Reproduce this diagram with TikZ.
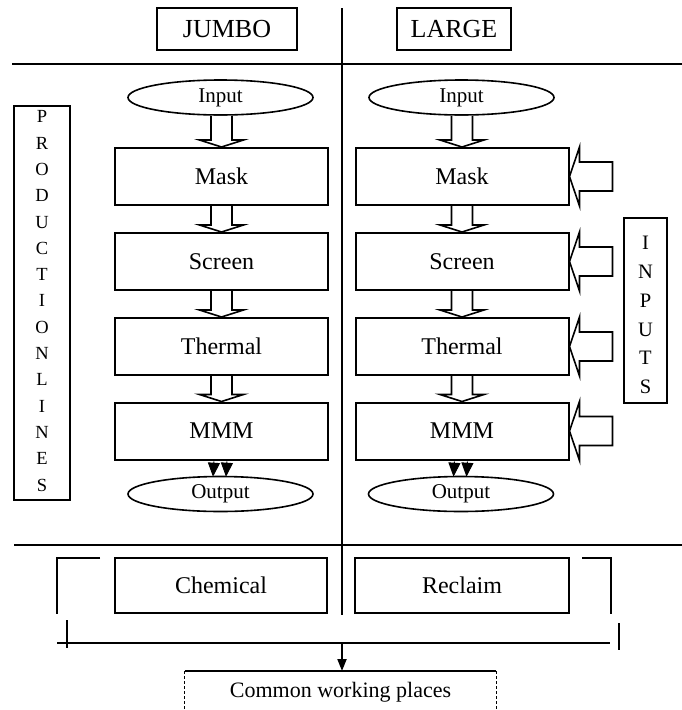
\documentclass[tikz,border=0pt]{standalone}
\usepackage{fontspec}
\setmainfont{Liberation Serif}
\usetikzlibrary{calc,arrows.meta,shapes.geometric}

\tikzset{
  procbox/.style={draw, line width=2pt, minimum width=213pt, minimum height=57pt,
    inner sep=0pt, font=\fontsize{24}{28}\selectfont},
  titlebox/.style={draw, line width=1.6pt, minimum height=42pt, inner sep=0pt,
    font=\fontsize{26}{30}\selectfont},
  flowell/.style={draw, ellipse, line width=1.6pt, minimum width=185pt,
    minimum height=35pt, inner sep=0pt, font=\fontsize{21}{24}\selectfont},
  sidebox/.style={draw, line width=2pt, inner sep=0pt},
  sidetext/.style={align=center, inner sep=0pt},
  hollow/.style={draw, line width=1.6pt, fill=white, line join=miter},
  rule/.style={line width=2pt},
  divider/.style={line width=2.6pt},
  dblhead/.style={line width=1pt, -{Triangle[width=12pt,length=14pt]}},
  joinarrow/.style={line width=2pt, -{Triangle[width=9pt,length=12pt]}},
}

% wide hollow arrow pointing down from node #1 into node #2
\newcommand\hollowdown[2]{%
  \draw[hollow] let \p1=(#1.south), \p2=(#2.north) in
    (\x2-10.5pt,\y1) -- (\x2-10.5pt,\y2+7pt) -- (\x2-22pt,\y2+7pt) -- (\x2,\y2)
    -- (\x2+22pt,\y2+7pt) -- (\x2+10.5pt,\y2+7pt) -- (\x2+10.5pt,\y1);}

% hollow arrow entering node #1 from the right
\newcommand\hollowleft[1]{%
  \draw[hollow] let \p1=(#1.east), \p2=(#1.north east), \p3=(#1.south east) in
    (\x1+43pt,\y1+14.5pt) -- (\x1+10pt,\y1+14.5pt) -- (\x1+10pt,\y2) -- (\x1,\y1)
    -- (\x1+10pt,\y3) -- (\x1+10pt,\y1-14.5pt) -- (\x1+43pt,\y1-14.5pt) -- cycle;}

\begin{document}
\begin{tikzpicture}[x=1pt, y=-1pt]
  \fill[white] (0,0) rectangle (682,710);
  \useasboundingbox (0,0) rectangle (682,710);

  % column titles
  \node[titlebox, minimum width=140pt] (jumbo) at (227,29) {JUMBO};
  \node[titlebox, minimum width=114pt] (large) at (454,29) {LARGE};

  % dividing lines
  \coordinate (divtop) at (342,8);
  \coordinate (divbot) at (342,615);
  \draw[divider] (divtop) -- (divbot);
  \coordinate (topL) at (12,64);
  \coordinate (topR) at (682,64);
  \draw[rule] (topL) -- (topR);
  \coordinate (midL) at (14,545);
  \coordinate (midR) at (682,545);
  \draw[rule] (midL) -- (midR);

  % JUMBO line
  \node[flowell] (inL) at (220.5,97.5) {Input};
  \node[procbox] (maskL) at (221.5,176.5) {Mask};
  \node[procbox] (screenL) at (221.5,261.5) {Screen};
  \node[procbox] (thermL) at (221.5,346.5) {Thermal};
  \node[procbox] (mmmL) at (221.5,431) {MMM};
  \node[flowell] (outL) at (220.5,494) {Output};

  % LARGE line
  \node[flowell] (inR) at (461.5,97.5) {Input};
  \node[procbox] (maskR) at (462,176.5) {Mask};
  \node[procbox] (screenR) at (462,261.5) {Screen};
  \node[procbox] (thermR) at (462,346.5) {Thermal};
  \node[procbox] (mmmR) at (462,431) {MMM};
  \node[flowell] (outR) at (461,494) {Output};

  % flow arrows
  \hollowdown{inL}{maskL}
  \hollowdown{maskL}{screenL}
  \hollowdown{screenL}{thermL}
  \hollowdown{thermL}{mmmL}
  \hollowdown{inR}{maskR}
  \hollowdown{maskR}{screenR}
  \hollowdown{screenR}{thermR}
  \hollowdown{thermR}{mmmR}

  \foreach \n in {L,R} {
    \draw[dblhead] ($(mmm\n.south)+(-7.5,1)$) -- ($(out\n.north)+(-7.5,1)$);
    \draw[dblhead] ($(mmm\n.south)+(5.5,1)$) -- ($(out\n.north)+(5.5,1)$);
  }

  % inputs entering the LARGE line
  \hollowleft{maskR}
  \hollowleft{screenR}
  \hollowleft{thermR}
  \hollowleft{mmmR}

  % side labels
  \node[sidebox, minimum width=56pt, minimum height=394pt] (prod) at (42,303) {};
  \node[sidetext, font=\fontsize{18.5}{26.3}\selectfont] (prodtxt) at (42,301)
    {P\\R\\O\\D\\U\\C\\T\\I\\O\\N\\L\\I\\N\\E\\S};
  \node[sidebox, minimum width=43pt, minimum height=185pt] (inputs) at (645.5,310.5) {};
  \node[sidetext, font=\fontsize{20.5}{28.8}\selectfont] (inputstxt) at (645.5,315)
    {I\\N\\P\\U\\T\\S};

  % shared areas
  \node[procbox, minimum width=212pt, minimum height=55pt] (chem) at (221,585.5) {Chemical};
  \node[procbox, minimum width=214pt, minimum height=55pt] (recl) at (462,585.5) {Reclaim};

  \draw[rule] (100,558) -- (57,558) -- (57,614);
  \draw[rule] (582,558) -- (611,558) -- (611,614);

  \coordinate (busL) at (57,643);
  \coordinate (busR) at (610,643);
  \coordinate (join) at (342,643);
  \draw[rule] (busL) -- (busR);
  \draw[rule] (67,620) -- (67,648);
  \draw[rule] (619,623) -- (619,650);

  \node[minimum width=311pt, minimum height=42pt, inner sep=0pt, anchor=north,
        font=\fontsize{22}{26}\selectfont] (common) at (340.5,671) {Common working places};
  \draw[line width=1.4pt] (common.north west) -- (common.north east);
  \draw[line width=0.8pt, densely dashed] (common.north west) -- ++(0,45);
  \draw[line width=0.8pt, densely dashed] (common.north east) -- ++(0,45);
  \draw[joinarrow] (join) -- (join |- common.north);
\end{tikzpicture}
\end{document}
